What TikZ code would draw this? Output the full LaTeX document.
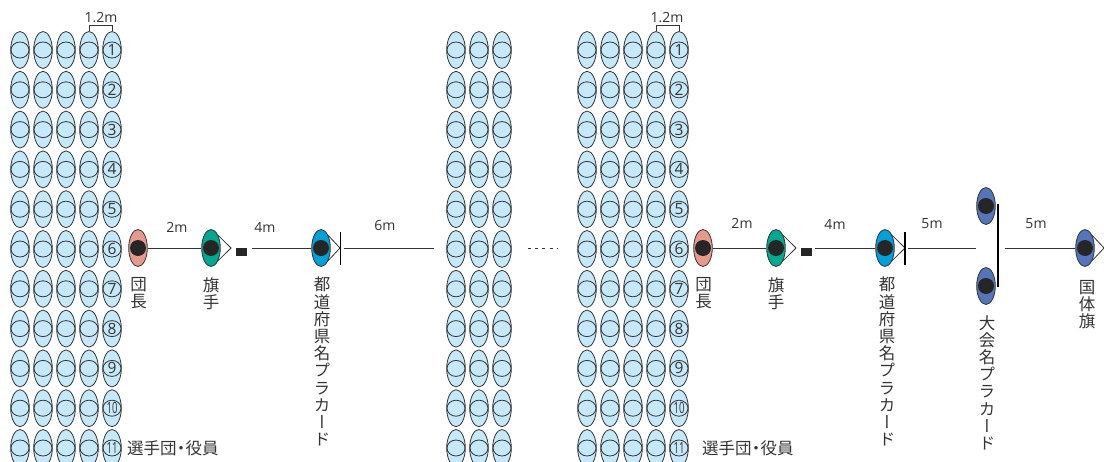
\documentclass[tikz,border=0pt]{standalone}
\usepackage{fontspec}
\usetikzlibrary{shapes.geometric}
\setmainfont{Open Sans}[Scale=1]
\newfontfamily\cjk[RawFeature=+vert]{Noto Sans CJK JP}
\newfontfamily\cjkh{Noto Sans CJK JP}
\definecolor{seatblue}{HTML}{C5E8FA}
\definecolor{leadred}{HTML}{E8998D}
\definecolor{flaggreen}{HTML}{00A98F}
\definecolor{cardblue}{HTML}{00A0DC}
\definecolor{guestblue}{HTML}{5575BB}
\definecolor{inkgray}{HTML}{333333}
\tikzset{
    seat/.style={draw=inkgray, fill=seatblue, ellipse, minimum width=18.6pt, minimum height=37pt, inner sep=0pt, line width=.8pt},
    ring/.style={draw=inkgray, ellipse, minimum width=18pt, minimum height=16pt, inner sep=0pt, line width=.8pt},
    seatnum/.style={font=\fontsize{15.5}{15.5}\selectfont, text=inkgray, inner sep=0pt},
    person/.style={seat, fill=#1},
    head/.style={fill=black!85, circle, minimum size=16pt, inner sep=0pt},
    pole/.style={fill=black!85, minimum width=11pt, minimum height=8pt, inner sep=0pt},
    dist/.style={font=\fontsize{14}{14}\selectfont, text=inkgray, inner sep=0pt},
    vlabel/.style={font=\cjk\fontsize{16.5}{17.2}\selectfont, text=inkgray, align=center, anchor=north, inner sep=0pt},
    hlabel/.style={font=\cjkh\fontsize{16.5}{16.5}\selectfont, text=inkgray, anchor=west, inner sep=0pt},
    line/.style={draw=inkgray, line width=.8pt},
    bar/.style={draw=black, line width=1.5pt},
}
\begin{document}
\begin{tikzpicture}[x=1pt, y=-1pt]
    \clip (0,0) rectangle (1104,461);

    % Seats
    \foreach \x in {20,43,66,89,112,456,479,502,587,610,633,656,679}
        \foreach \r in {1,...,11} {
            \node[seat] (s\x-\r) at (\x,{10.2+39.8*\r}) {};
            \node[ring] (c\x-\r) at (s\x-\r) {};
        }

    % Numbers
    \foreach \x in {112,679} {
        \foreach \r in {1,...,9}
            \node[seatnum] (n\x-\r) at (s\x-\r) {\r};
        \foreach \r in {10,11}
            \node[seatnum, xscale=.62] (n\x-\r) at (s\x-\r) {\r};
    }

    % Width marks
    \draw[line] (s89-1.north) -- ++(0,-6) -| (s112-1.north);
    \draw[line] (s656-1.north) -- ++(0,-6) -| (s679-1.north);
    \node[dist] (w1) at (101,18) {1.2m};
    \node[dist] (w2) at (667,18) {1.2m};

    % Left group
    \node[person=leadred] (lead1) at (138,248) {};
    \node[head] (lead1h) at (lead1) {};
    \node[person=flaggreen] (flag1) at (211,248) {};
    \node[head] (flag1h) at (flag1) {};
    \node[person=cardblue] (card1) at (321,248) {};
    \node[head] (card1h) at (card1) {};
    \coordinate (flag1t) at (231,248);
    \coordinate (card1t) at (340,248);
    \coordinate (gap1) at (434,248);
    \node[pole] (pole1) at (241.5,252) {};
    \draw[line] (flag1.60) -- (flag1t) -- (flag1.-60);
    \draw[line] (card1.60) -- (card1t) -- (card1.-60);
    \draw[line] (lead1) -- (flag1);
    \draw[line, shorten <=21pt] (flag1t) -- (card1);
    \draw[line, shorten <=4pt] (card1t) -- (gap1);
    \draw[bar] (340.5,232) coordinate (b1a) -- (340.5,265) coordinate (b1b);

    % Gap
    \coordinate (dots1) at (528,248);
    \coordinate (dots2) at (558,248);
    \draw[line, dash pattern=on 3pt off 4.2pt] (dots1) -- (dots2);

    % Right group
    \node[person=leadred] (lead2) at (703,248) {};
    \node[head] (lead2h) at (lead2) {};
    \node[person=flaggreen] (flag2) at (776,248) {};
    \node[head] (flag2h) at (flag2) {};
    \node[person=cardblue] (card2) at (885,248) {};
    \node[head] (card2h) at (card2) {};
    \node[person=guestblue] (top) at (986,206) {};
    \node[head] (toph) at (top) {};
    \node[person=guestblue] (bot) at (986,286) {};
    \node[head] (both) at (bot) {};
    \node[person=guestblue] (nat) at (1085,248) {};
    \node[head] (nath) at (nat) {};
    \coordinate (flag2t) at (796,248);
    \coordinate (card2t) at (905,248);
    \coordinate (natt) at (1104,248);
    \coordinate (gap2) at (976,248);
    \coordinate (gap3) at (998,248);
    \node[pole] (pole2) at (806,252) {};
    \draw[line] (flag2.60) -- (flag2t) -- (flag2.-60);
    \draw[line] (card2.60) -- (card2t) -- (card2.-60);
    \draw[line] (nat.60) -- (natt) -- (nat.-60);
    \draw[line] (lead2) -- (flag2);
    \draw[line, shorten <=19pt] (flag2t) -- (card2);
    \draw[line, shorten <=3pt] (card2t) -- (gap2);
    \draw[line, shorten <=7pt] (gap3) -- (nat);
    \draw[bar] (905,232) coordinate (b2a) -- (905,265) coordinate (b2b);
    \draw[bar, line width=2pt] (998,204) coordinate (b3a) -- (998,287) coordinate (b3b);

    % Distances
    \node[dist] (d1) at (177,227) {2m};
    \node[dist] (d2) at (265,227) {4m};
    \node[dist] (d3) at (385,225) {6m};
    \node[dist] (d4) at (742,223) {2m};
    \node[dist] (d5) at (835,224) {4m};
    \node[dist] (d6) at (932,224) {5m};
    \node[dist] (d7) at (1036,224) {5m};

    % Labels
    \node[vlabel] (l1) at (138.5,277) {団\\長};
    \node[vlabel] (l2) at (211,277) {旗\\手};
    \node[vlabel] (l3) at (322,277) {都\\道\\府\\県\\名\\プ\\ラ\\カ\\ー\\ド};
    \node[vlabel] (l4) at (703.5,277) {団\\長};
    \node[vlabel] (l5) at (776,277) {旗\\手};
    \node[vlabel] (l6) at (887,277) {都\\道\\府\\県\\名\\プ\\ラ\\カ\\ー\\ド};
    \node[vlabel] (l7) at (987,315) {大\\会\\名\\プ\\ラ\\カ\\ー\\ド};
    \node[vlabel] (l8) at (1087,280) {国\\体\\旗};
    \node[hlabel] (g1) at (127,448) {選手団\makebox[9pt]{・}役員};
    \node[hlabel] (g2) at (702,448) {選手団\makebox[9pt]{・}役員};
\end{tikzpicture}
\end{document}
